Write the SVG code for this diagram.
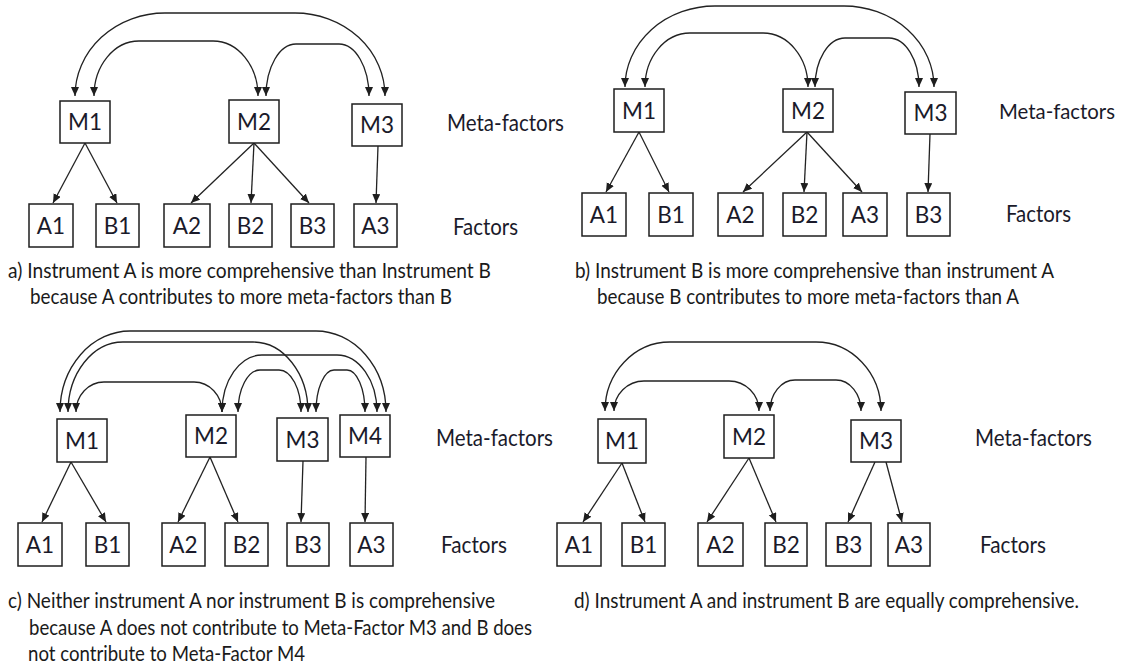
<svg xmlns="http://www.w3.org/2000/svg" width="1124" height="667" viewBox="0 0 1124 667">
  <style>
    .box { fill: #ffffff; stroke: #1e1e1e; stroke-width: 1.5; }
    .lbl { font-family: Lato, "Open Sans", "Liberation Sans", sans-serif; font-size: 22.5px; fill: #1a1a2a; text-anchor: middle; }
    .side { font-family: Lato, "Open Sans", "Liberation Sans", sans-serif; font-size: 23px; fill: #1a1a2a; }
    .side-sm { font-family: Lato, "Open Sans", "Liberation Sans", sans-serif; font-size: 21.5px; fill: #1a1a2a; }
    .cap { font-family: Lato, "Open Sans", "Liberation Sans", sans-serif; font-size: 20.5px; fill: #1a1a1a; }
    .link { fill: none; stroke: #222222; stroke-width: 1.3; marker-end: url(#arrow); }
    .arc { fill: none; stroke: #222222; stroke-width: 1.3; marker-start: url(#arrow); marker-end: url(#arrow); }
  </style>
  <defs>
    <marker id="arrow" markerUnits="userSpaceOnUse" markerWidth="10" markerHeight="9" refX="9" refY="4" orient="auto-start-reverse">
      <path d="M0,0 L9,4 L0,8 z" fill="#1e1e1e"/>
    </marker>
  </defs>
  <rect width="1124" height="667" fill="#ffffff"/>

  <!-- connectors -->
  <g id="connectors">
    <!-- panel a: links between meta-factors -->
    <path class="arc" d="M75 96 A90 83 0 0 1 165 13 L295 13 A90 83 0 0 1 385 96"/>
    <path class="arc" d="M94 96 A45 55 0 0 1 139 41 L213 41 A45 55 0 0 1 258 96"/>
    <path class="arc" d="M266 96 A30 52 0 0 1 296 44 L339 44 A30 52 0 0 1 369 96"/>
    <!-- panel a: meta-factor to factor -->
    <line class="link" x1="85" y1="143" x2="53" y2="203"/>
    <line class="link" x1="85" y1="143" x2="117" y2="203"/>
    <line class="link" x1="254" y1="143" x2="191" y2="203"/>
    <line class="link" x1="254" y1="143" x2="251" y2="203"/>
    <line class="link" x1="254" y1="143" x2="309" y2="203"/>
    <line class="link" x1="378" y1="146" x2="376" y2="203"/>

    <!-- panel b -->
    <path class="arc" d="M625 87 A90 81 0 0 1 715 6 L844 6 A90 81 0 0 1 934 87"/>
    <path class="arc" d="M645 87 A45 54 0 0 1 690 33 L763 33 A45 54 0 0 1 808 87"/>
    <path class="arc" d="M815 87 A30 49 0 0 1 845 38 L889 38 A30 49 0 0 1 919 87"/>
    <line class="link" x1="639" y1="132" x2="606" y2="192"/>
    <line class="link" x1="639" y1="132" x2="669" y2="192"/>
    <line class="link" x1="807" y1="132" x2="743" y2="192"/>
    <line class="link" x1="807" y1="132" x2="804" y2="192"/>
    <line class="link" x1="807" y1="132" x2="862" y2="192"/>
    <line class="link" x1="930" y1="134" x2="928" y2="192"/>

    <!-- panel c -->
    <path class="arc" d="M60 412 A70 81 0 0 1 130 331 L316 331 A70 81 0 0 1 386 412"/>
    <path class="arc" d="M68 412 A55 70 0 0 1 123 342 L253 342 A55 70 0 0 1 308 412"/>
    <path class="arc" d="M76 412 A28 30 0 0 1 104 382 L194 382 A28 30 0 0 1 222 412"/>
    <path class="arc" d="M222 412 A40 57 0 0 1 262 355 L337 355 A40 57 0 0 1 377 412"/>
    <path class="arc" d="M238 412 A22 42 0 0 1 260 370 L279 370 A22 42 0 0 1 301 412"/>
    <path class="arc" d="M316 412 A18 42 0 0 1 334 370 L347 370 A18 42 0 0 1 365 412"/>
    <line class="link" x1="71" y1="462" x2="42" y2="522"/>
    <line class="link" x1="71" y1="462" x2="106" y2="522"/>
    <line class="link" x1="210" y1="457" x2="178" y2="522"/>
    <line class="link" x1="210" y1="457" x2="238" y2="522"/>
    <line class="link" x1="303" y1="461" x2="301" y2="522"/>
    <line class="link" x1="366" y1="457" x2="365" y2="522"/>

    <!-- panel d -->
    <path class="arc" d="M605 411 A65 69 0 0 1 670 342 L816 342 A65 69 0 0 1 881 411"/>
    <path class="arc" d="M614 411 A30 30 0 0 1 644 381 L729 381 A30 30 0 0 1 759 411"/>
    <path class="arc" d="M770 411 A25 31 0 0 1 795 380 L836 380 A25 31 0 0 1 861 411"/>
    <line class="link" x1="622" y1="463" x2="583" y2="522"/>
    <line class="link" x1="622" y1="463" x2="645" y2="522"/>
    <line class="link" x1="749" y1="458" x2="707" y2="522"/>
    <line class="link" x1="749" y1="458" x2="776" y2="522"/>
    <line class="link" x1="875" y1="462" x2="848" y2="522"/>
    <line class="link" x1="886" y1="462" x2="902" y2="522"/>
  </g>

  <!-- panel a nodes -->
  <g id="a-M1"><rect class="box" x="60" y="101" width="50" height="42"/><text class="lbl" x="85" y="130">M1</text></g>
  <g id="a-M2"><rect class="box" x="229" y="100" width="50" height="43"/><text class="lbl" x="254" y="129.5">M2</text></g>
  <g id="a-M3"><rect class="box" x="352" y="104" width="50" height="42"/><text class="lbl" x="377" y="133">M3</text></g>
  <g id="a-A1"><rect class="box" x="29" y="204" width="44" height="43"/><text class="lbl" x="51" y="233.5">A1</text></g>
  <g id="a-B1"><rect class="box" x="96" y="204" width="43" height="43"/><text class="lbl" x="117.5" y="233.5">B1</text></g>
  <g id="a-A2"><rect class="box" x="164" y="204" width="46" height="43"/><text class="lbl" x="187" y="233.5">A2</text></g>
  <g id="a-B2"><rect class="box" x="229" y="204" width="43" height="43"/><text class="lbl" x="250.5" y="233.5">B2</text></g>
  <g id="a-B3"><rect class="box" x="291" y="204" width="43" height="43"/><text class="lbl" x="312.5" y="233.5">B3</text></g>
  <g id="a-A3"><rect class="box" x="354" y="204" width="43" height="43"/><text class="lbl" x="375.5" y="233.5">A3</text></g>
  <g id="a-labels">
    <text class="side" x="447" y="131" textLength="117" lengthAdjust="spacingAndGlyphs">Meta-factors</text>
    <text class="side" x="453" y="235" textLength="65" lengthAdjust="spacingAndGlyphs">Factors</text>
  </g>

  <!-- panel b nodes -->
  <g id="b-M1"><rect class="box" x="614" y="89" width="50" height="43"/><text class="lbl" x="639" y="118.5">M1</text></g>
  <g id="b-M2"><rect class="box" x="783" y="89" width="50" height="43"/><text class="lbl" x="808" y="118.5">M2</text></g>
  <g id="b-M3"><rect class="box" x="905" y="92" width="51" height="42"/><text class="lbl" x="930.5" y="121">M3</text></g>
  <g id="b-A1"><rect class="box" x="582" y="193" width="44" height="43"/><text class="lbl" x="604" y="222.5">A1</text></g>
  <g id="b-B1"><rect class="box" x="649" y="193" width="44" height="43"/><text class="lbl" x="671" y="222.5">B1</text></g>
  <g id="b-A2"><rect class="box" x="718" y="193" width="45" height="43"/><text class="lbl" x="740.5" y="222.5">A2</text></g>
  <g id="b-B2"><rect class="box" x="783" y="193" width="43" height="43"/><text class="lbl" x="804.5" y="222.5">B2</text></g>
  <g id="b-A3"><rect class="box" x="843" y="193" width="44" height="43"/><text class="lbl" x="865" y="222.5">A3</text></g>
  <g id="b-B3"><rect class="box" x="907" y="193" width="43" height="43"/><text class="lbl" x="928.5" y="222.5">B3</text></g>
  <g id="b-labels">
    <text class="side-sm" x="999" y="119" textLength="116" lengthAdjust="spacingAndGlyphs">Meta-factors</text>
    <text class="side" x="1006" y="222" textLength="65" lengthAdjust="spacingAndGlyphs">Factors</text>
  </g>

  <!-- panel c nodes -->
  <g id="c-M1"><rect class="box" x="57" y="419" width="50" height="43"/><text class="lbl" x="82" y="448.5">M1</text></g>
  <g id="c-M2"><rect class="box" x="186" y="415" width="50" height="42"/><text class="lbl" x="211" y="444">M2</text></g>
  <g id="c-M3"><rect class="box" x="277" y="418" width="51" height="43"/><text class="lbl" x="302.5" y="447.5">M3</text></g>
  <g id="c-M4"><rect class="box" x="340" y="415" width="50" height="42"/><text class="lbl" x="365" y="444">M4</text></g>
  <g id="c-A1"><rect class="box" x="18" y="523" width="44" height="43"/><text class="lbl" x="40" y="552.5">A1</text></g>
  <g id="c-B1"><rect class="box" x="86" y="523" width="43" height="43"/><text class="lbl" x="107.5" y="552.5">B1</text></g>
  <g id="c-A2"><rect class="box" x="162" y="523" width="43" height="43"/><text class="lbl" x="183.5" y="552.5">A2</text></g>
  <g id="c-B2"><rect class="box" x="225" y="523" width="43" height="43"/><text class="lbl" x="246.5" y="552.5">B2</text></g>
  <g id="c-B3"><rect class="box" x="287" y="523" width="42" height="43"/><text class="lbl" x="308" y="552.5">B3</text></g>
  <g id="c-A3"><rect class="box" x="350" y="523" width="43" height="43"/><text class="lbl" x="371.5" y="552.5">A3</text></g>
  <g id="c-labels">
    <text class="side" x="436" y="446" textLength="117" lengthAdjust="spacingAndGlyphs">Meta-factors</text>
    <text class="side" x="441" y="553" textLength="66" lengthAdjust="spacingAndGlyphs">Factors</text>
  </g>

  <!-- panel d nodes -->
  <g id="d-M1"><rect class="box" x="598" y="419" width="48" height="44"/><text class="lbl" x="622" y="449">M1</text></g>
  <g id="d-M2"><rect class="box" x="724" y="415" width="50" height="43"/><text class="lbl" x="749" y="444.5">M2</text></g>
  <g id="d-M3"><rect class="box" x="851" y="420" width="50" height="42"/><text class="lbl" x="876" y="449">M3</text></g>
  <g id="d-A1"><rect class="box" x="557" y="523" width="44" height="43"/><text class="lbl" x="579" y="552.5">A1</text></g>
  <g id="d-B1"><rect class="box" x="622" y="523" width="43" height="43"/><text class="lbl" x="643.5" y="552.5">B1</text></g>
  <g id="d-A2"><rect class="box" x="698" y="523" width="45" height="43"/><text class="lbl" x="720.5" y="552.5">A2</text></g>
  <g id="d-B2"><rect class="box" x="765" y="523" width="42" height="43"/><text class="lbl" x="786" y="552.5">B2</text></g>
  <g id="d-B3"><rect class="box" x="826" y="523" width="45" height="43"/><text class="lbl" x="848.5" y="552.5">B3</text></g>
  <g id="d-A3"><rect class="box" x="888" y="523" width="42" height="43"/><text class="lbl" x="909" y="552.5">A3</text></g>
  <g id="d-labels">
    <text class="side" x="975" y="446" textLength="117" lengthAdjust="spacingAndGlyphs">Meta-factors</text>
    <text class="side" x="980" y="553" textLength="66" lengthAdjust="spacingAndGlyphs">Factors</text>
  </g>

  <!-- captions -->
  <g id="captions">
    <text class="cap" x="8" y="278" textLength="483" lengthAdjust="spacingAndGlyphs">a) Instrument A is more comprehensive than Instrument B</text>
    <text class="cap" x="30" y="304" textLength="422" lengthAdjust="spacingAndGlyphs">because A contributes to more meta-factors than B</text>
    <text class="cap" x="575" y="278" textLength="479" lengthAdjust="spacingAndGlyphs">b) Instrument B is more comprehensive than instrument A</text>
    <text class="cap" x="597" y="304" textLength="422" lengthAdjust="spacingAndGlyphs">because B contributes to more meta-factors than A</text>
    <text class="cap" x="8" y="608" textLength="487" lengthAdjust="spacingAndGlyphs">c) Neither instrument A nor instrument B is comprehensive</text>
    <text class="cap" x="29" y="635" textLength="503" lengthAdjust="spacingAndGlyphs">because A does not contribute to Meta-Factor M3 and B does</text>
    <text class="cap" x="28" y="661" textLength="277" lengthAdjust="spacingAndGlyphs">not contribute to Meta-Factor M4</text>
    <text class="cap" x="574" y="608" textLength="505" lengthAdjust="spacingAndGlyphs">d) Instrument A and instrument B are equally comprehensive.</text>
  </g>
</svg>
